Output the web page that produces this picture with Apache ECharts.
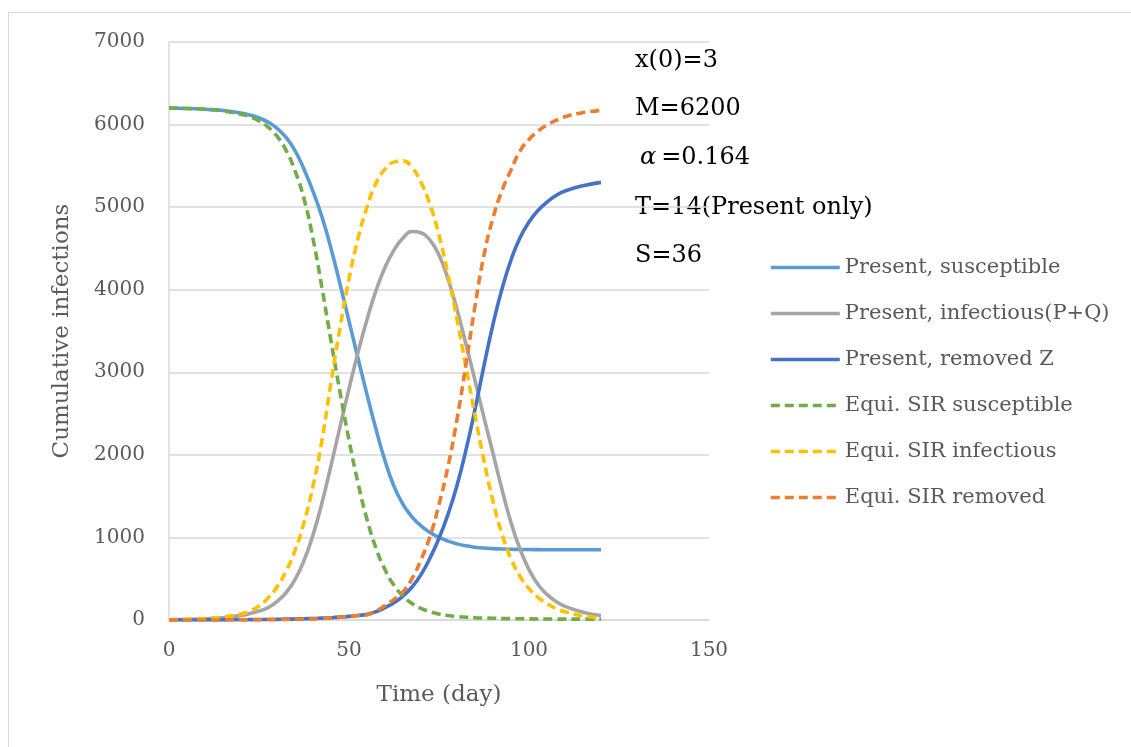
<!DOCTYPE html>
<html>
<head>
<meta charset="utf-8">
<script src="https://cdn.jsdelivr.net/npm/echarts@6/dist/echarts.min.js"></script>
<style>html,body{margin:0;padding:0;background:#fff;}#c{width:1131px;height:747px;}</style>
</head>
<body>
<div id="c"></div>
<script>
const days = [0,5,10,15,20,22.5,25,27.5,30,32.5,35,37.5,40,42.5,45,47.5,50,52.5,55,57.5,60,62.5,65,67.5,70,72.5,75,77.5,80,82.5,85,87.5,90,92.5,95,97.5,100,102.5,105,107.5,110,115,120];
const presentSusceptible = [6200,6195,6185,6170,6140,6115,6080,6030,5955,5845,5685,5460,5190,4880,4500,4070,3620,3170,2730,2310,1930,1620,1400,1250,1140,1060,1000,955,922,898,882,871,864,859,856,854,853,852,851,851,850,850,850];
const presentInfectious = [3,8,15,28,55,78,108,150,225,330,490,720,1030,1420,1870,2340,2800,3240,3640,3990,4270,4480,4625,4705,4690,4600,4420,4130,3760,3340,2900,2450,2020,1580,1180,860,610,430,310,225,165,95,55];
const presentRemoved = [0,0,1,2,3,4,5,6,8,10,12,15,18,23,28,35,44,55,68,100,150,210,290,400,550,750,990,1280,1630,2060,2550,3080,3580,4010,4360,4630,4820,4960,5060,5140,5195,5260,5300];
const sirSusceptible = [6200,6195,6185,6165,6125,6095,6045,5970,5860,5690,5440,5100,4620,4020,3380,2760,2180,1660,1220,870,610,420,290,200,140,100,72,54,42,34,28,24,21,18,16,15,14,13,12,11,11,10,10];
const sirInfectious = [3,8,18,38,72,108,170,265,400,590,840,1180,1620,2180,2880,3540,4130,4620,5000,5290,5460,5545,5560,5480,5300,5030,4660,4180,3640,3060,2480,1930,1440,1040,740,530,380,275,200,140,100,50,22];
const sirRemoved = [0,0,0,1,2,2,3,4,5,6,8,10,13,18,25,34,45,55,65,110,175,250,340,500,730,1010,1400,1860,2430,3100,3800,4420,4870,5200,5450,5680,5820,5920,5995,6050,6095,6145,6170];
const seriesNames = ['Present, susceptible','Present, infectious(P+Q)','Present, removed Z','Equi. SIR susceptible','Equi. SIR infectious','Equi. SIR removed'];
const annotations = ['x(0)=3','M=6200','{i|α}=0.164','T=14(Present only)','S=36'];
const xTicks = [0,50,100,150];
const yTicks = [0,1000,2000,3000,4000,5000,6000,7000];

const colors = ['#5B9BD5','#A5A5A5','#4472C4','#70AD47','#FFC000','#ED7D31'];
const dashed = [false,false,false,true,true,true];
const allValues = [presentSusceptible,presentInfectious,presentRemoved,sirSusceptible,sirInfectious,sirRemoved];
const FONT = '"DejaVu Serif", serif';

const chart = echarts.init(document.getElementById('c'), null, {renderer:'canvas'});
const series = allValues.map((vals,i)=>({
  name: seriesNames[i],
  type: 'line',
  data: days.map((d,k)=>[d, vals[k]]),
  showSymbol: false,
  symbol: 'none',
  smooth: 0.5,
  lineStyle: {color: colors[i], width: 3.6, type: dashed[i] ? [9,5] : 'solid', cap: 'butt'},
  itemStyle: {color: colors[i]},
  emphasis: {disabled: true},
  animation: false
}));

const annY = [62,110,159,209,257];
const graphics = annotations.map((t,i)=>({
  type: 'text',
  left: i===2 ? 640 : 635,
  top: annY[i]-13,
  style: {
    text: t,
    fill: '#000',
    font: '24px ' + FONT,
    rich: {i: {fontStyle:'italic', fontFamily: FONT, fontSize: 24, fill:'#000', padding:[0,5,0,0]}}
  }
}));
graphics.unshift({
  type: 'rect',
  shape: {x: 8.5, y: 12.5, width: 1200, height: 800},
  style: {fill: 'none', stroke: '#D9D9D9', lineWidth: 1},
  silent: true
});

chart.setOption({
  animation: false,
  backgroundColor: '#fff',
  grid: {left: 169, top: 42, width: 540, height: 578, containLabel: false},
  xAxis: {
    type: 'value', min: 0, max: 150, interval: 50,
    name: 'Time (day)', nameLocation: 'middle', nameGap: 64,
    nameTextStyle: {fontFamily: FONT, fontSize: 23, color: '#595959'},
    axisLine: {show: true, lineStyle: {color: '#D9D9D9', width: 1.5}},
    axisTick: {show: false},
    splitLine: {show: false},
    axisLabel: {fontFamily: FONT, fontSize: 20, color: '#595959', margin: 21,
      formatter: v => xTicks.includes(v) ? String(v) : ''}
  },
  yAxis: {
    type: 'value', min: 0, max: 7000, interval: 1000,
    name: 'Cumulative infections', nameLocation: 'middle', nameGap: 95, nameRotate: 90,
    nameTextStyle: {fontFamily: FONT, fontSize: 23, color: '#595959'},
    axisLine: {show: true, lineStyle: {color: '#D9D9D9', width: 1.5}},
    axisTick: {show: false},
    splitLine: {show: true, lineStyle: {color: '#D9D9D9', width: 1.5}},
    axisLabel: {fontFamily: FONT, fontSize: 20, color: '#595959', margin: 24,
      formatter: v => yTicks.includes(v) ? String(v) : ''}
  },
  legend: {
    orient: 'vertical', left: 764, top: 252,
    itemWidth: 69, itemHeight: 14, itemGap: 25,
    itemStyle: {opacity: 0},
    lineStyle: {width: 3.6},
    textStyle: {fontFamily: FONT, fontSize: 21, color: '#595959'},
    data: seriesNames
  },
  graphic: graphics,
  series: series
});
</script>
</body>
</html>
